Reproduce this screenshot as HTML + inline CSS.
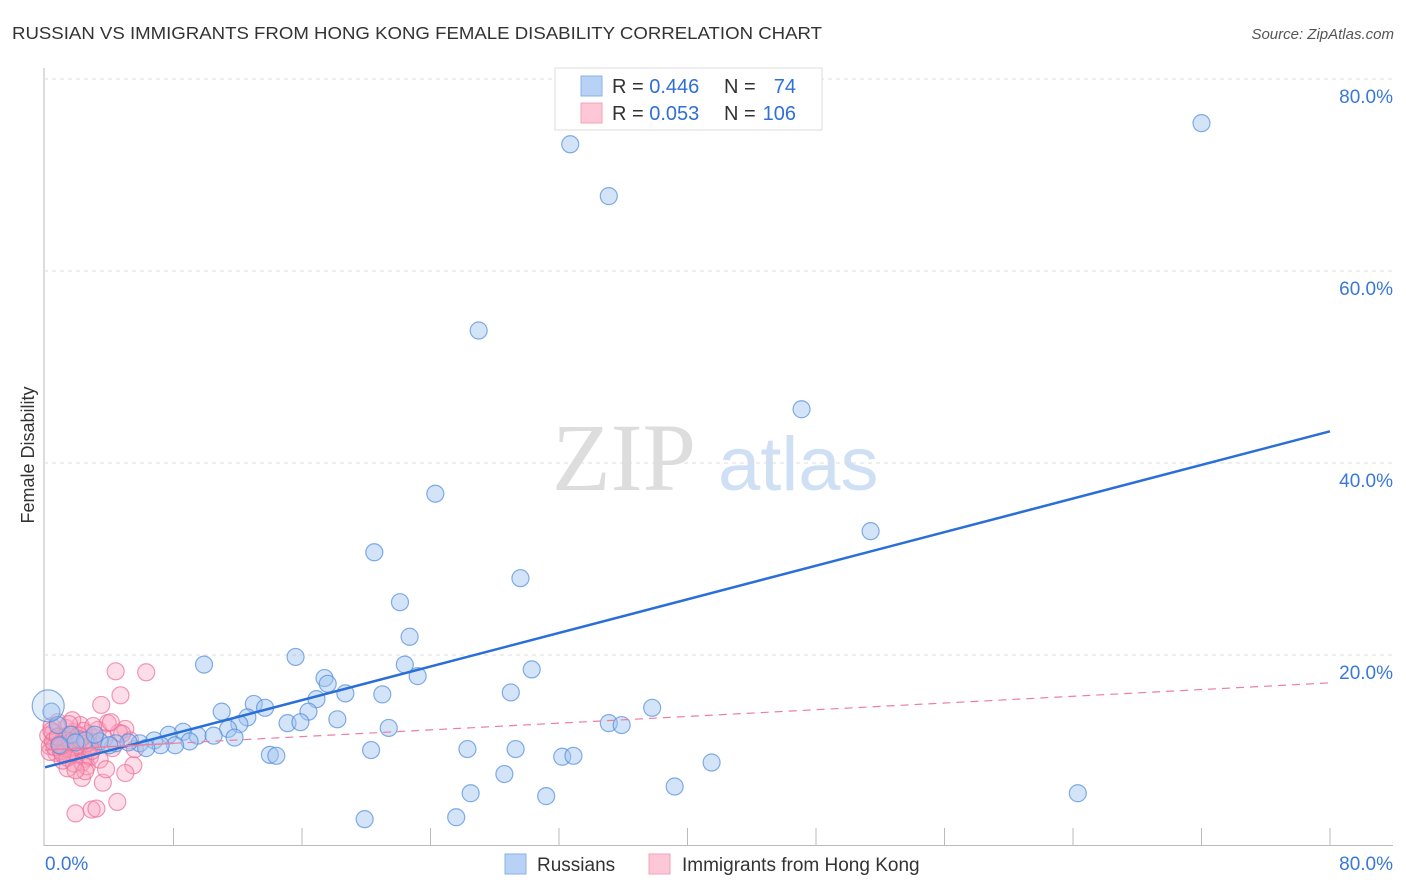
<!DOCTYPE html>
<html><head><meta charset="utf-8"><style>
body{margin:0;background:#fff;font-family:"Liberation Sans",sans-serif}
#wrap{position:relative;width:1406px;height:892px;overflow:hidden}
</style></head><body>
<div id="wrap">
<svg id="svg" width="1406" height="892" xmlns="http://www.w3.org/2000/svg">
<text x="12" y="39" font-size="17.5" fill="#333" textLength="810" lengthAdjust="spacingAndGlyphs">RUSSIAN VS IMMIGRANTS FROM HONG KONG FEMALE DISABILITY CORRELATION CHART</text>
<text x="1394" y="39" font-size="15" fill="#555" font-style="italic" text-anchor="end">Source: ZipAtlas.com</text>
<text x="34" y="455" font-size="18" fill="#333" text-anchor="middle" transform="rotate(-90 34 455)">Female Disability</text>
<text x="552" y="490" font-size="96" fill="#ddd" font-family="Liberation Serif,serif">ZIP</text>
<text x="718" y="490" font-size="76" fill="#cfe0f5">atlas</text>
<g id="grid"></g><g id="pts"></g><g id="lines"></g>
<g>
<rect x="555" y="68" width="267" height="62" fill="#fff" stroke="#ddd"/>
<rect x="581" y="76" width="21" height="20" fill="#b8d2f5" stroke="#8ab0e8"/>
<rect x="581" y="103" width="21" height="20" fill="#fcc7d7" stroke="#f5a0bb"/>
<text x="612" y="93" font-size="20" fill="#333">R = <tspan fill="#2f6fd6">0.446</tspan></text>
<text x="724" y="93" font-size="20" fill="#333">N =</text>
<text x="796" y="93" font-size="20" fill="#2f6fd6" text-anchor="end">74</text>
<text x="612" y="120" font-size="20" fill="#333">R = <tspan fill="#2f6fd6">0.053</tspan></text>
<text x="724" y="120" font-size="20" fill="#333">N =</text>
<text x="796" y="120" font-size="20" fill="#2f6fd6" text-anchor="end">106</text>
</g>
<g>
<rect x="505" y="854" width="21" height="20" fill="#b8d2f5" stroke="#8ab0e8"/>
<text x="537" y="871" font-size="19" fill="#333">Russians</text>
<rect x="649" y="854" width="21" height="20" fill="#fcc7d7" stroke="#f5a0bb"/>
<text x="682" y="871" font-size="19" fill="#333">Immigrants from Hong Kong</text>
</g>
</svg>
</div>
<script>
const yTicks=[20,40,60,80];
const xTickLabels=["0.0%","80.0%"];
const blueX=[32.7,72.0,35.1,27.0,47.1,24.3,51.4,20.5,29.6,22.1,22.7,15.6,9.9,30.3,22.4,23.2,17.4,17.6,21.0,18.7,16.9,29.0,13.0,13.7,11.0,16.4,37.8,12.6,18.2,15.1,15.9,35.1,35.9,21.4,12.1,11.4,8.6,9.5,10.5,11.8,7.7,6.8,9.0,5.9,8.1,7.2,6.3,5.2,4.4,26.3,29.3,20.3,32.2,32.9,14.0,14.4,41.5,28.6,26.5,64.3,31.2,39.2,19.9,25.6,0.4,0.8,1.6,2.5,3.4,4.0,0.9,1.9,3.1,0.2];
const blueY=[73.2,75.4,67.8,53.8,45.6,36.8,32.9,30.7,28.0,25.5,21.9,19.8,19.0,18.5,19.0,17.8,17.6,17.0,15.9,16.0,15.4,16.1,14.9,14.5,14.1,14.1,14.5,13.5,13.3,12.9,13.0,12.9,12.7,12.4,12.8,12.3,12.0,11.6,11.6,11.4,11.7,11.1,11.0,10.8,10.6,10.6,10.3,10.9,10.8,10.2,10.2,10.1,9.4,9.5,9.6,9.5,8.8,7.6,5.6,5.6,5.3,6.3,2.9,3.1,14.1,12.7,11.7,11.1,11.0,10.6,10.6,10.9,11.7,14.7];
const pinkX=[4.4,6.3,4.7,3.5,5.0,4.6,1.9,2.9,3.2,4.5,3.6,5.5,5.0,2.3,1.4,0.3,0.6,0.9,1.2,1.5,1.8,2.1,2.4,2.7,3.0,3.3,0.4,0.7,1.0,1.3,1.6,1.9,2.2,2.5,2.8,3.1,0.2,0.5,0.8,1.1,1.4,1.7,2.0,2.3,2.6,3.9,4.2,5.3,0.3,0.6,1.0,1.3,1.7,2.0,2.4,2.8,3.4,3.8,4.1,0.5,0.9,1.2,1.5,1.8,2.1,2.6,3.0,1.1,1.6,2.2,4.8,5.6,0.4,0.8,1.4,2.5,3.7,1.0,1.9,2.9];
const pinkY=[18.3,18.2,15.8,14.8,12.3,11.9,3.5,3.9,4.0,4.7,6.7,8.5,7.7,7.2,8.2,10.5,11.2,10.8,11.5,10.2,12.0,11.0,10.4,11.8,10.9,12.2,12.6,9.8,10.1,12.4,9.5,9.9,12.7,9.2,10.6,11.4,11.6,11.9,13.0,9.0,10.7,13.2,9.6,8.8,8.4,12.9,10.3,11.1,9.9,10.4,10.0,11.3,11.7,10.6,12.1,9.4,9.1,8.1,13.0,11.0,10.7,10.3,12.8,8.7,11.6,10.8,12.6,9.7,10.9,11.2,11.8,10.2,12.1,11.5,9.3,7.9,11.3,10.5,8.0,10.0];
const blueTrend=[8.3,43.3];
const pinkTrend=[10.1,17.1];
const X=v=>45+v/80*1285, Y=v=>847-v/20*192;
const NS="http://www.w3.org/2000/svg";
function mk(tag,attrs,parent){const e=document.createElementNS(NS,tag);for(const k in attrs)e.setAttribute(k,attrs[k]);parent.appendChild(e);return e;}
const grid=document.getElementById('grid');
mk('line',{x1:44,y1:68,x2:44,y2:846,stroke:'#bbb'},grid);
mk('line',{x1:44,y1:845.5,x2:1393,y2:845.5,stroke:'#bbb'},grid);
for(let i=1;i<=10;i++){const l=mk('line',{x1:X(i*8),y1:828,x2:X(i*8),y2:845,stroke:'#bbb'},grid);}
yTicks.forEach(t=>{
 const g=mk('line',{x1:44,y1:Y(t),x2:1393,y2:Y(t),stroke:'#ddd','stroke-dasharray':'4,4'},grid);
 
 const tx=mk('text',{x:1393,y:Y(t)+24,'font-size':19,fill:'#3a78d8','text-anchor':'end'},grid);
 
 tx.textContent=t.toFixed(1)+'%';
});
const l0=mk('text',{x:45,y:870,'font-size':19,fill:'#3a78d8'},grid);
l0.textContent=xTickLabels[0];
const l1=mk('text',{x:1393,y:870,'font-size':19,fill:'#3a78d8','text-anchor':'end'},grid);
l1.textContent=xTickLabels[1];
const pts=document.getElementById('pts');
pinkX.forEach((v,i)=>{const c=mk('circle',{cx:X(v),cy:Y(pinkY[i]),r:8.5,fill:'rgba(248,160,188,0.35)',stroke:'rgba(236,110,150,0.7)','stroke-width':1.2},pts);
});
blueX.forEach((v,i)=>{const big=i===blueX.length-1;const c=mk('circle',{cx:X(v),cy:Y(blueY[i]),r:big?16:8.5,fill:big?'rgba(160,196,240,0.3)':'rgba(160,196,240,0.45)',stroke:'rgba(80,140,220,0.7)','stroke-width':1.2},pts);
});
const lines=document.getElementById('lines');
const bl=mk('line',{x1:X(0),y1:Y(blueTrend[0]),x2:X(80),y2:Y(blueTrend[1]),stroke:'#2a6fd8','stroke-width':2.5},lines);

const pf=v=>pinkTrend[0]+(pinkTrend[1]-pinkTrend[0])*v/80;
const ps=mk('line',{x1:X(0),y1:Y(pf(0)),x2:X(8),y2:Y(pf(8)),stroke:'#ec7fa0','stroke-width':1.5},lines);

const pl=mk('line',{x1:X(8),y1:Y(pf(8)),x2:X(80),y2:Y(pinkTrend[1]),stroke:'#ec7fa0','stroke-width':1.2,'stroke-dasharray':'8,6'},lines);

</script>
</body></html>
